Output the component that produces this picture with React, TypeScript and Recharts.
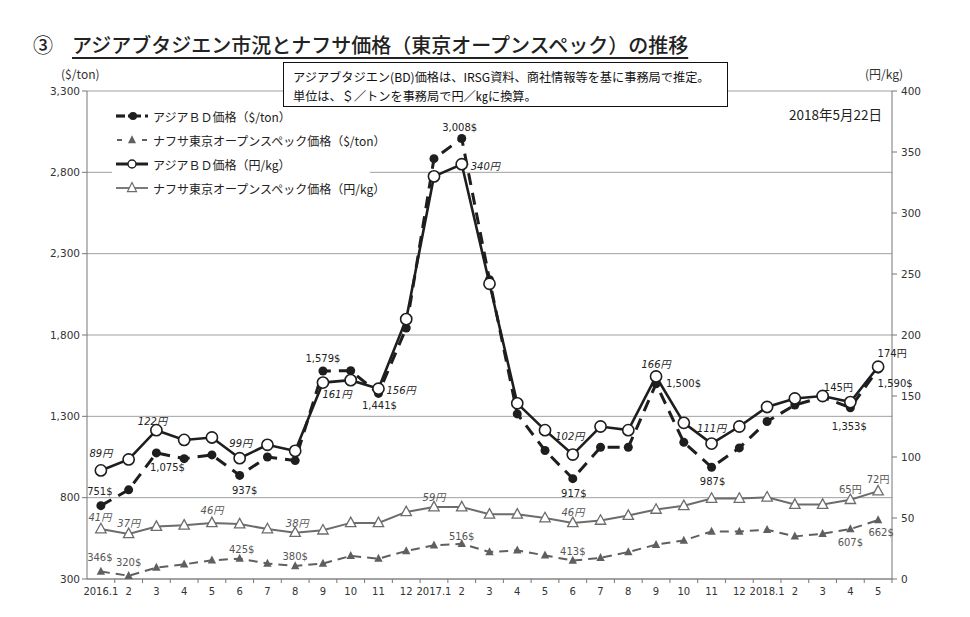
import React from 'react';
import { ComposedChart, Line, XAxis, YAxis, CartesianGrid, LabelList, Legend } from 'recharts';

// ---------- data ----------
const periods = [
  '2016.1', '2016.2', '2016.3', '2016.4', '2016.5', '2016.6', '2016.7', '2016.8', '2016.9', '2016.10', '2016.11', '2016.12',
  '2017.1', '2017.2', '2017.3', '2017.4', '2017.5', '2017.6', '2017.7', '2017.8', '2017.9', '2017.10', '2017.11', '2017.12',
  '2018.1', '2018.2', '2018.3', '2018.4', '2018.5',
];
const tickLabels = [
  '2016.1', '2', '3', '4', '5', '6', '7', '8', '9', '10', '11', '12',
  '2017.1', '2', '3', '4', '5', '6', '7', '8', '9', '10', '11', '12',
  '2018.1', '2', '3', '4', '5',
];
// アジアBD価格 ($/ton)
const bdUsd = [751, 848, 1075, 1040, 1063, 937, 1050, 1028, 1579, 1580, 1441, 1843, 2884, 3008, 2140, 1315, 1090, 917, 1110, 1110, 1500, 1140, 987, 1106, 1268, 1370, 1418, 1353, 1590];
// ナフサ東京オープンスペック価格 ($/ton)
const naphthaUsd = [346, 320, 370, 390, 415, 425, 395, 380, 395, 442, 425, 472, 507, 516, 466, 476, 445, 413, 430, 466, 511, 537, 592, 592, 603, 562, 578, 607, 662];
// アジアBD価格 (円/kg)
const bdYen = [89, 98, 122, 114, 116, 99, 110, 105, 161, 163, 156, 213, 330, 340, 242, 144, 122, 102, 125, 122, 166, 128, 111, 125, 141, 148, 150, 145, 174];
// ナフサ東京オープンスペック価格 (円/kg)
const naphthaYen = [41, 37, 43, 44, 46, 45, 41, 38, 40, 46, 46, 55, 59, 59, 53, 53, 50, 46, 48, 52, 57, 60, 66, 66, 67, 61, 61, 65, 72];

const leftTicks = [300, 800, 1300, 1800, 2300, 2800, 3300];
const rightTicks = [0, 50, 100, 150, 200, 250, 300, 350, 400];

const seriesNames = {
  bdUsd: 'アジアＢＤ価格（$/ton）',
  naphthaUsd: 'ナフサ東京オープンスペック価格（$/ton）',
  bdYen: 'アジアＢＤ価格（円/kg）',
  naphthaYen: 'ナフサ東京オープンスペック価格（円/kg）',
};

const data = periods.map((p, i) => ({
  period: p,
  bdUsd: bdUsd[i],
  naphthaUsd: naphthaUsd[i],
  bdYen: bdYen[i],
  naphthaYen: naphthaYen[i],
}));

// ---------- label placement (which points carry a value label, and where) ----------
type Place = { dx: number; dy: number; anchor?: 'start' | 'middle' | 'end'; italic?: boolean };
const bdUsdLabelAt: Record<number, Place> = {
  0: { dx: -1, dy: -14 }, 2: { dx: 11, dy: 15 }, 5: { dx: 5, dy: 15 }, 8: { dx: 0, dy: -12 },
  10: { dx: 1, dy: 12 }, 13: { dx: -2, dy: -11 }, 17: { dx: 1, dy: 15 }, 20: { dx: 10, dy: 0, anchor: 'start' },
  22: { dx: 1, dy: 14 }, 27: { dx: -1, dy: 19 }, 28: { dx: 17, dy: 14 },
};
const bdYenLabelAt: Record<number, Place> = {
  0: { dx: 0, dy: -17, italic: true }, 2: { dx: -4, dy: -9, italic: true }, 5: { dx: 1, dy: -15, italic: true },
  8: { dx: 14, dy: 12, italic: true }, 10: { dx: 8, dy: 2, anchor: 'start', italic: true },
  13: { dx: 9, dy: 2, anchor: 'start', italic: true }, 17: { dx: -3, dy: -18, italic: true },
  20: { dx: 0, dy: -12, italic: true }, 22: { dx: 0, dy: -15, italic: true },
  27: { dx: -12, dy: -15 }, 28: { dx: 14, dy: -13 },
};
const naphthaUsdLabelAt: Record<number, Place> = {
  0: { dx: -1, dy: -14 }, 1: { dx: 0, dy: -13 }, 5: { dx: 2, dy: -9 }, 7: { dx: 0, dy: -9 },
  13: { dx: 0, dy: -7 }, 17: { dx: 0, dy: -9 }, 27: { dx: 0, dy: 13 }, 28: { dx: 3, dy: 12 },
};
const naphthaYenLabelAt: Record<number, Place> = {
  0: { dx: -1, dy: -11, italic: true }, 1: { dx: 0, dy: -10, italic: true }, 4: { dx: 0, dy: -12, italic: true },
  7: { dx: 2, dy: -9, italic: true }, 12: { dx: 0, dy: -10, italic: true }, 17: { dx: 0, dy: -10, italic: true },
  27: { dx: 0, dy: -10 }, 28: { dx: 0, dy: -12 },
};

// ---------- layout / style ----------
const W = 970;
const H = 617;
const LEFT_W = 87;
const RIGHT_W = 78;
const TOP = 91;
const XAXIS_H = 38;
const band = (W - LEFT_W - RIGHT_W) / periods.length;
const NUM_FONT = '"DejaVu Sans", "Noto Sans CJK JP", sans-serif';
const JP_FONT = '"Noto Sans CJK JP", "DejaVu Sans", sans-serif';
const DARK = '#1e1e1e';
const GREY = '#5f5f5f';
const GREY_LINE = '#6c6c6c';

const fmt = (v: number) => v.toLocaleString('en-US');

const makeLabel = (places: Record<number, Place>, values: number[], suffix: string, color: string) =>
  (props: any) => {
    const index = props.index;
    const p = places[index];
    if (!p) return null;
    const x = props.x ?? props.viewBox?.x;
    const y = props.y ?? props.viewBox?.y;
    if (x == null || y == null) return null;
    return (
      <text
        key={`lb-${suffix}-${index}`}
        x={x + p.dx}
        y={y + p.dy}
        textAnchor={p.anchor || 'middle'}
        dominantBaseline="central"
        fontFamily={NUM_FONT}
        fontSize={10}
        fontStyle={p.italic ? 'italic' : 'normal'}
        fill={color}
      >
        {fmt(values[index])}
        {suffix}
      </text>
    );
  };

const filledCircle = (p: any) =>
  p.cx == null ? <g key={`fc-${p.index}`} /> : <circle key={`fc-${p.index}`} cx={p.cx} cy={p.cy} r={4.5} fill={DARK} />;
const openCircle = (p: any) =>
  p.cx == null ? <g key={`oc-${p.index}`} /> : (
    <circle key={`oc-${p.index}`} cx={p.cx} cy={p.cy} r={5.6} fill="#fff" stroke={DARK} strokeWidth={1.6} />
  );
const triPath = (cx: number, cy: number, hw: number, h: number) =>
  `M${cx},${cy - h * 0.6} L${cx + hw},${cy + h * 0.4} L${cx - hw},${cy + h * 0.4} Z`;
const filledTri = (p: any) =>
  p.cx == null ? <g key={`ft-${p.index}`} /> : <path key={`ft-${p.index}`} d={triPath(p.cx, p.cy, 4.2, 8)} fill={GREY} />;
const openTri = (p: any) =>
  p.cx == null ? <g key={`ot-${p.index}`} /> : (
    <path key={`ot-${p.index}`} d={triPath(p.cx, p.cy, 5.2, 9.5)} fill="#fff" stroke={GREY_LINE} strokeWidth={1.3} />
  );

const XTick = (props: any) => {
  const { x, y, payload } = props;
  const idx = props.index ?? periods.indexOf(payload.value);
  return (
    <g>
      <line x1={x + band / 2} x2={x + band / 2} y1={y} y2={y + 4} stroke="#777" />
      <text x={x} y={y + 12} textAnchor="middle" dominantBaseline="central" fontFamily={NUM_FONT} fontSize={10} fill="#333">
        {tickLabels[idx]}
      </text>
    </g>
  );
};

const legendRows: { key: keyof typeof seriesNames }[] = [
  { key: 'bdUsd' }, { key: 'naphthaUsd' }, { key: 'bdYen' }, { key: 'naphthaYen' },
];

const iconStyle: React.CSSProperties = { display: 'block', flexShrink: 0, overflow: 'visible' };

const LegendIcon = ({ kind }: { kind: string }) => {
  const cy = 8;
  if (kind === 'bdUsd')
    return (
      <svg width={32} height={16} style={iconStyle}>
        <line x1={0} x2={9} y1={cy} y2={cy} stroke={DARK} strokeWidth={3.2} />
        <line x1={12} x2={32} y1={cy} y2={cy} stroke={DARK} strokeWidth={3.2} strokeDasharray="13 4 9" />
        <circle cx={17} cy={cy} r={4} fill={DARK} />
      </svg>
    );
  if (kind === 'naphthaUsd')
    return (
      <svg width={32} height={16} style={iconStyle}>
        <line x1={1} x2={6} y1={cy} y2={cy} stroke={GREY} strokeWidth={2} />
        <line x1={26} x2={31} y1={cy} y2={cy} stroke={GREY} strokeWidth={2} />
        <path d={triPath(16, cy, 4, 8)} fill={GREY} />
      </svg>
    );
  if (kind === 'bdYen')
    return (
      <svg width={32} height={16} style={iconStyle}>
        <line x1={0} x2={32} y1={cy} y2={cy} stroke={DARK} strokeWidth={3} />
        <circle cx={16} cy={cy} r={4} fill="#fff" stroke={DARK} strokeWidth={1.4} />
      </svg>
    );
  return (
    <svg width={32} height={16} style={iconStyle}>
      <line x1={0} x2={32} y1={cy} y2={cy} stroke={GREY_LINE} strokeWidth={1.8} />
      <path d={triPath(16, cy, 4.5, 9)} fill="#fff" stroke={GREY_LINE} strokeWidth={1.2} />
    </svg>
  );
};

const renderLegend = () => (
  <div style={{ background: '#fff', paddingLeft: 4, fontFamily: JP_FONT, fontSize: 12, color: '#222' }}>
    {legendRows.map((r) => (
      <div key={r.key} style={{ height: 24, display: 'flex', alignItems: 'center' }}>
        <LegendIcon kind={r.key} />
        <span style={{ marginLeft: 5, whiteSpace: 'nowrap' }}>{seriesNames[r.key]}</span>
      </div>
    ))}
  </div>
);

export default function App() {
  return (
    <div style={{ position: 'absolute', left: 0, top: 0, width: W, height: H, background: '#fff' }}>
      <ComposedChart width={W} height={H} data={data} margin={{ top: TOP, right: 0, bottom: 0, left: 0 }}>
        <CartesianGrid yAxisId="left" vertical={false} stroke="#a0a0a0" strokeWidth={1} />
        <XAxis
          dataKey="period"
          scale="band"
          interval={0}
          height={XAXIS_H}
          tick={<XTick />}
          tickLine={false}
          tickSize={0}
          tickMargin={0}
          axisLine={{ stroke: '#777' }}
        />
        <YAxis
          yAxisId="left"
          domain={[300, 3300]}
          ticks={leftTicks}
          interval={0}
          width={LEFT_W}
          tickFormatter={fmt}
          tick={{ fontFamily: NUM_FONT, fontSize: 10.5, fill: '#333' }}
          axisLine={{ stroke: '#777' }}
          tickLine={{ stroke: '#777' }}
          tickSize={5}
          tickMargin={2}
          allowDataOverflow
        />
        <YAxis
          yAxisId="right"
          orientation="right"
          domain={[0, 400]}
          ticks={rightTicks}
          interval={0}
          width={RIGHT_W}
          tick={{ fontFamily: NUM_FONT, fontSize: 10.5, fill: '#333' }}
          axisLine={{ stroke: '#777' }}
          tickLine={{ stroke: '#777' }}
          tickSize={5}
          tickMargin={4}
          allowDataOverflow
        />
        <Legend
          layout="horizontal"
          verticalAlign="middle"
          align="center"
          content={renderLegend}
          wrapperStyle={{ position: 'absolute', left: 112, top: 104, width: 258, height: 96 }}
        />
        <Line
          yAxisId="left"
          type="linear"
          dataKey="naphthaUsd"
          name={seriesNames.naphthaUsd}
          stroke={GREY}
          strokeWidth={2}
          strokeDasharray="9 6"
          dot={filledTri}
          activeDot={false}
          isAnimationActive={false}
        >
          <LabelList dataKey="naphthaUsd" content={makeLabel(naphthaUsdLabelAt, naphthaUsd, '$', '#555')} />
        </Line>
        <Line
          yAxisId="right"
          type="linear"
          dataKey="naphthaYen"
          name={seriesNames.naphthaYen}
          stroke={GREY_LINE}
          strokeWidth={2}
          dot={openTri}
          activeDot={false}
          isAnimationActive={false}
        >
          <LabelList dataKey="naphthaYen" content={makeLabel(naphthaYenLabelAt, naphthaYen, '円', '#555')} />
        </Line>
        <Line
          yAxisId="left"
          type="linear"
          dataKey="bdUsd"
          name={seriesNames.bdUsd}
          stroke={DARK}
          strokeWidth={3}
          strokeDasharray="12 8"
          dot={filledCircle}
          activeDot={false}
          isAnimationActive={false}
        >
          <LabelList dataKey="bdUsd" content={makeLabel(bdUsdLabelAt, bdUsd, '$', '#222')} />
        </Line>
        <Line
          yAxisId="right"
          type="linear"
          dataKey="bdYen"
          name={seriesNames.bdYen}
          stroke={DARK}
          strokeWidth={2.6}
          dot={openCircle}
          activeDot={false}
          isAnimationActive={false}
        >
          <LabelList dataKey="bdYen" content={makeLabel(bdYenLabelAt, bdYen, '円', '#222')} />
        </Line>
      </ComposedChart>

      {/* Title */}
      <div
        style={{
          position: 'absolute', left: 33, top: 30, fontFamily: JP_FONT, fontSize: 20, fontWeight: 500,
          color: '#222', whiteSpace: 'nowrap', lineHeight: '30px',
        }}
      >
        <span>③</span>
        <span style={{ marginLeft: 19, textDecoration: 'underline', textUnderlineOffset: 4 }}>
          アジアブタジエン市況とナフサ価格（東京オープンスペック）の推移
        </span>
      </div>

      {/* Axis unit labels */}
      <div style={{ position: 'absolute', left: 61, top: 65, fontFamily: JP_FONT, fontSize: 12, color: '#333' }}>($/ton)</div>
      <div style={{ position: 'absolute', left: 865, top: 65, fontFamily: JP_FONT, fontSize: 12, color: '#333' }}>(円/kg)</div>

      {/* Note box */}
      <div
        style={{
          position: 'absolute', left: 283, top: 62, width: 445, height: 45, boxSizing: 'border-box',
          border: '1.5px solid #111', background: '#fff', fontFamily: JP_FONT, fontSize: 12.2, color: '#111',
          padding: '5px 0 0 9px', lineHeight: '19px', whiteSpace: 'nowrap',
        }}
      >
        <div>アジアブタジエン(BD)価格は、IRSG資料、商社情報等を基に事務局で推定。</div>
        <div>単位は、＄／トンを事務局で円／㎏に換算。</div>
      </div>

      {/* Date */}
      <div style={{ position: 'absolute', left: 789, top: 104, fontFamily: JP_FONT, fontSize: 13.5, color: '#222' }}>
        2018年5月22日
      </div>
    </div>
  );
}
